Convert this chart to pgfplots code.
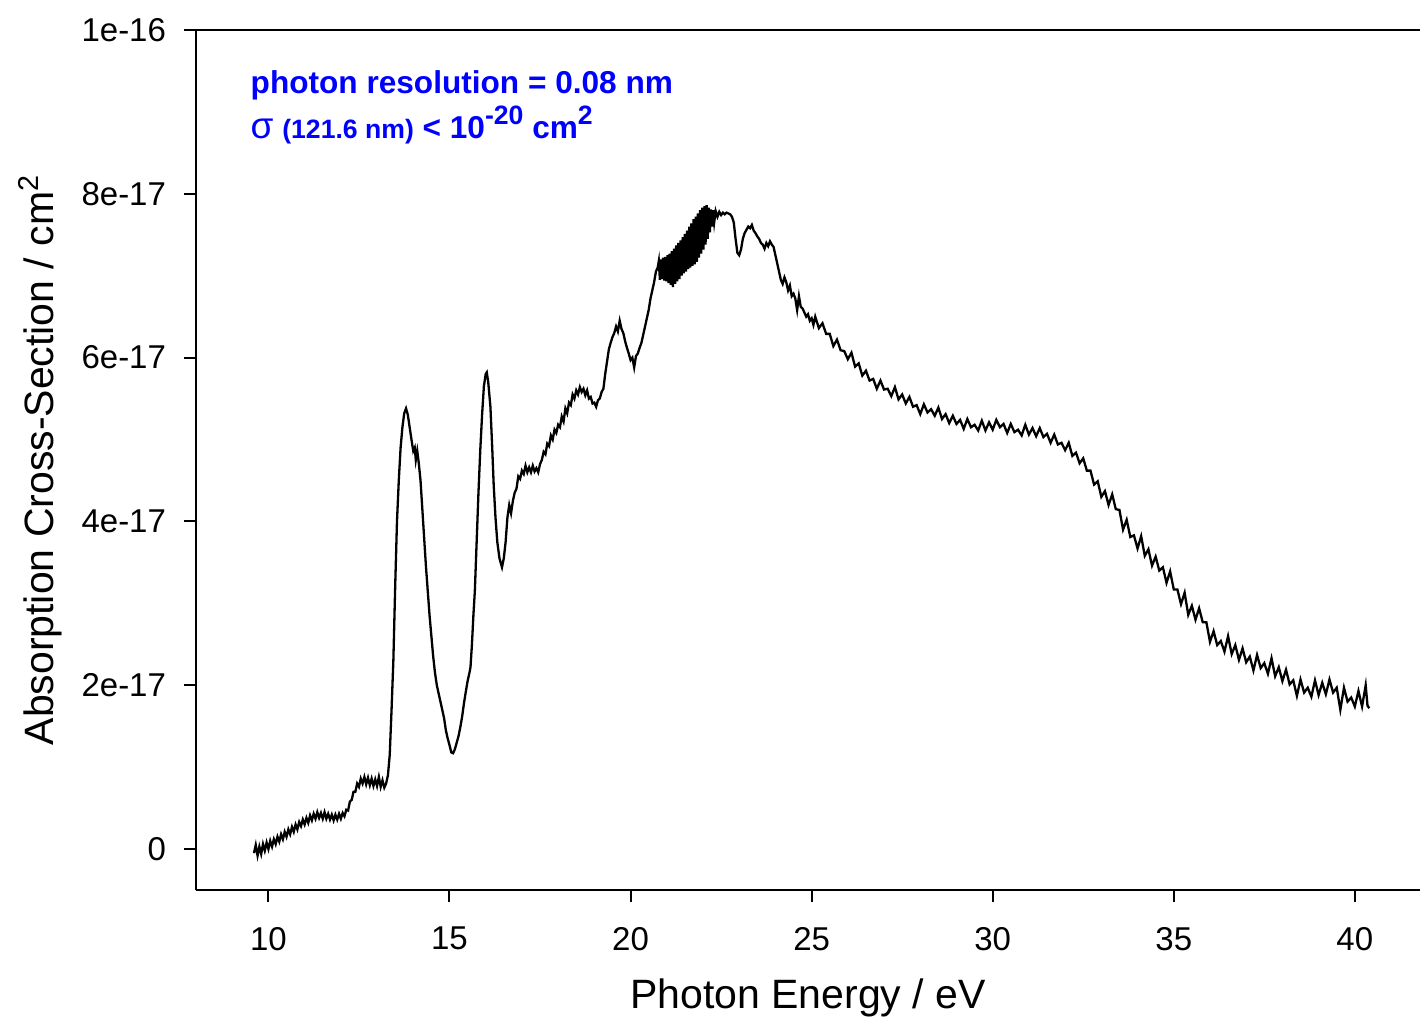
\documentclass[border=0pt]{standalone}
\usepackage{fontspec}
\setmainfont{Liberation Sans}
\usepackage{pgfplots}
\pgfplotsset{compat=1.18}
\definecolor{annot}{RGB}{0,0,255}

% cross-section in units of 1e-17 cm^2
\pgfplotstableread{
E s
9.60 -0.05
9.65 0.05
9.70 -0.08
9.75 0.03
9.80 -0.06
9.85 0.06
9.90 -0.02
9.95 0.08
10.00 0.00
10.05 0.10
10.10 0.03
10.15 0.12
10.20 0.06
10.25 0.15
10.30 0.09
10.35 0.18
10.40 0.12
10.45 0.21
10.50 0.15
10.55 0.24
10.60 0.18
10.65 0.27
10.70 0.21
10.75 0.30
10.80 0.24
10.85 0.33
10.90 0.28
10.95 0.36
11.00 0.30
11.05 0.38
11.10 0.32
11.15 0.41
11.20 0.35
11.25 0.43
11.30 0.37
11.35 0.45
11.40 0.38
11.45 0.44
11.50 0.37
11.55 0.45
11.60 0.37
11.65 0.43
11.70 0.36
11.75 0.42
11.80 0.35
11.85 0.42
11.90 0.36
11.95 0.43
12.00 0.37
12.05 0.44
12.10 0.40
12.15 0.48
12.20 0.47
12.25 0.58
12.30 0.60
12.35 0.70
12.40 0.70
12.45 0.80
12.50 0.76
12.55 0.86
12.60 0.80
12.65 0.88
12.70 0.79
12.75 0.87
12.80 0.78
12.85 0.86
12.90 0.77
12.95 0.85
13.00 0.77
13.05 0.88
13.10 0.76
13.15 0.84
13.20 0.75
13.25 0.80
13.30 0.90
13.35 1.15
13.40 1.70
13.45 2.30
13.50 3.20
13.55 4.00
13.60 4.50
13.65 4.90
13.70 5.15
13.75 5.32
13.80 5.38
13.85 5.30
13.90 5.15
13.95 5.00
14.00 4.86
14.04 4.90
14.07 4.75
14.11 4.86
14.15 4.72
14.20 4.50
14.25 4.15
14.30 3.80
14.35 3.45
14.40 3.15
14.45 2.85
14.50 2.60
14.55 2.35
14.60 2.15
14.65 2.00
14.70 1.90
14.75 1.80
14.80 1.70
14.85 1.60
14.90 1.45
14.95 1.35
15.00 1.27
15.05 1.18
15.10 1.17
15.15 1.22
15.20 1.30
15.25 1.38
15.30 1.49
15.35 1.62
15.40 1.78
15.45 1.92
15.50 2.05
15.55 2.15
15.58 2.22
15.62 2.50
15.66 2.85
15.70 3.15
15.75 3.75
15.80 4.35
15.85 4.87
15.90 5.30
15.95 5.65
16.00 5.80
16.03 5.82
16.07 5.70
16.10 5.55
16.13 5.40
16.18 4.90
16.22 4.45
16.27 4.05
16.32 3.75
16.38 3.55
16.45 3.44
16.50 3.55
16.55 3.75
16.60 4.05
16.65 4.20
16.70 4.10
16.75 4.25
16.80 4.35
16.85 4.40
16.90 4.55
16.95 4.52
17.00 4.62
17.05 4.58
17.10 4.68
17.15 4.60
17.20 4.66
17.25 4.60
17.30 4.68
17.35 4.61
17.40 4.65
17.45 4.60
17.50 4.70
17.55 4.75
17.60 4.85
17.65 4.82
17.70 4.95
17.75 4.92
17.80 5.05
17.85 5.00
17.90 5.12
17.95 5.08
18.00 5.18
18.05 5.15
18.10 5.28
18.15 5.22
18.20 5.38
18.25 5.32
18.30 5.45
18.35 5.42
18.40 5.55
18.45 5.50
18.50 5.60
18.55 5.55
18.60 5.64
18.65 5.58
18.70 5.62
18.75 5.54
18.80 5.60
18.85 5.50
18.90 5.52
18.95 5.44
19.00 5.45
19.05 5.40
19.10 5.48
19.15 5.50
19.20 5.58
19.25 5.62
19.30 5.80
19.35 5.95
19.40 6.10
19.45 6.18
19.50 6.25
19.55 6.30
19.60 6.38
19.65 6.32
19.70 6.45
19.75 6.35
19.80 6.30
19.85 6.20
19.90 6.12
19.95 6.05
20.00 5.97
20.05 6.00
20.10 5.88
20.15 6.02
20.20 6.05
20.25 6.12
20.30 6.18
20.35 6.28
20.40 6.38
20.45 6.48
20.50 6.58
20.55 6.72
20.60 6.82
20.65 6.92
20.70 7.05
20.75 7.10
20.78 7.18
20.81 6.95
20.84 7.20
20.87 6.96
20.90 7.22
20.93 6.94
20.96 7.23
20.99 6.93
21.02 7.25
21.05 6.91
21.08 7.27
21.11 6.89
21.14 7.30
21.17 6.86
21.20 7.33
21.23 6.90
21.26 7.37
21.29 6.93
21.32 7.40
21.35 6.96
21.38 7.43
21.41 7.00
21.44 7.47
21.47 7.03
21.50 7.51
21.53 7.05
21.56 7.55
21.59 7.08
21.62 7.60
21.65 7.10
21.68 7.64
21.71 7.12
21.74 7.69
21.77 7.14
21.80 7.72
21.83 7.17
21.86 7.76
21.89 7.22
21.92 7.80
21.95 7.27
21.98 7.83
22.01 7.32
22.04 7.85
22.07 7.38
22.10 7.86
22.13 7.45
22.16 7.83
22.19 7.53
22.22 7.81
22.25 7.60
22.28 7.80
22.31 7.65
22.35 7.79
22.40 7.72
22.45 7.78
22.50 7.74
22.55 7.77
22.60 7.75
22.65 7.77
22.70 7.76
22.75 7.75
22.80 7.72
22.85 7.65
22.90 7.45
22.95 7.28
23.00 7.25
23.05 7.32
23.10 7.45
23.15 7.52
23.20 7.56
23.25 7.60
23.30 7.58
23.35 7.62
23.40 7.55
23.45 7.52
23.50 7.48
23.55 7.45
23.60 7.40
23.65 7.38
23.70 7.33
23.75 7.40
23.80 7.36
23.85 7.42
23.90 7.38
23.95 7.35
24.00 7.25
24.05 7.15
24.10 7.05
24.15 6.95
24.20 6.90
24.25 6.98
24.30 6.92
24.35 6.82
24.40 6.88
24.45 6.75
24.50 6.78
24.55 6.72
24.60 6.58
24.65 6.75
24.70 6.62
24.75 6.60
24.80 6.55
24.85 6.50
24.90 6.53
24.95 6.45
25.00 6.48
25.05 6.40
25.10 6.50
25.20 6.36
25.30 6.42
25.40 6.29
25.50 6.29
25.60 6.14
25.70 6.22
25.80 6.09
25.90 6.08
26.00 5.98
26.10 6.06
26.20 5.89
26.30 5.93
26.40 5.78
26.50 5.84
26.60 5.72
26.70 5.74
26.80 5.62
26.90 5.72
27.00 5.61
27.10 5.62
27.20 5.53
27.30 5.64
27.40 5.49
27.50 5.55
27.60 5.44
27.70 5.52
27.80 5.40
27.90 5.42
28.00 5.31
28.10 5.43
28.20 5.33
28.30 5.37
28.40 5.29
28.50 5.39
28.60 5.25
28.70 5.31
28.80 5.20
28.90 5.29
29.00 5.19
29.10 5.24
29.20 5.13
29.30 5.25
29.40 5.15
29.50 5.18
29.60 5.11
29.70 5.23
29.80 5.11
29.90 5.21
30.00 5.12
30.10 5.24
30.20 5.15
30.30 5.19
30.40 5.08
30.50 5.19
30.60 5.09
30.70 5.12
30.80 5.05
30.90 5.18
31.00 5.06
31.10 5.14
31.20 5.04
31.30 5.14
31.40 5.03
31.50 5.07
31.60 4.96
31.70 5.06
31.80 4.94
31.90 4.96
32.00 4.87
32.10 4.96
32.20 4.80
32.30 4.84
32.40 4.71
32.50 4.77
32.60 4.62
32.70 4.62
32.80 4.45
32.90 4.49
33.00 4.30
33.10 4.37
33.20 4.20
33.30 4.33
33.40 4.15
33.50 4.14
33.60 3.90
33.70 4.02
33.80 3.81
33.90 3.83
34.00 3.67
34.10 3.82
34.20 3.58
34.30 3.66
34.40 3.46
34.50 3.57
34.60 3.40
34.70 3.44
34.80 3.25
34.90 3.39
35.00 3.17
35.10 3.17
35.20 2.99
35.30 3.13
35.40 2.86
35.50 2.97
35.60 2.80
35.70 2.94
35.80 2.77
35.90 2.77
36.00 2.53
36.10 2.66
36.20 2.49
36.30 2.54
36.40 2.41
36.50 2.60
36.60 2.38
36.70 2.49
36.80 2.31
36.90 2.45
37.00 2.28
37.10 2.35
37.20 2.18
37.30 2.37
37.40 2.21
37.50 2.27
37.60 2.14
37.70 2.33
37.80 2.11
37.90 2.22
38.00 2.05
38.10 2.19
38.20 2.01
38.30 2.06
38.40 1.87
38.50 2.07
38.60 1.91
38.70 1.97
38.80 1.86
38.90 2.06
39.00 1.88
39.10 2.03
39.20 1.89
39.30 2.07
39.40 1.91
39.50 1.97
39.60 1.70
39.70 1.97
39.80 1.80
39.90 1.85
40.00 1.74
40.10 1.93
40.20 1.74
40.30 2.00
40.35 1.75
40.40 1.72
}\spectrum

\begin{document}
\begin{tikzpicture}
\begin{axis}[
  scale only axis, width=612bp, height=430bp,
  xmin=8, xmax=41.8, ymin=-0.5, ymax=10,
  axis x line=box, axis y line=left,
  axis line style={-, line width=1bp},
  xtick={10,15,20,25,30,35,40},
  ytick={0,2,4,6,8,10},
  yticklabels={0,2e-17,4e-17,6e-17,8e-17,1e-16},
  xtick pos=left, ytick pos=left,
  tick align=outside, major tick length=6bp,
  every tick/.style={black, line width=1bp},
  tick label style={font=\fontsize{16.5bp}{19bp}\selectfont},
  yticklabel style={xshift=-5.5bp},
  xticklabel style={yshift=-9bp},
  /pgf/number format/assume math mode=true,
  xlabel={Photon Energy / eV},
  ylabel={Absorption Cross-Section / cm\textsuperscript{2}},
  xlabel style={font=\fontsize{20.5bp}{24bp}\selectfont, at={(axis description cs:0.5,-0.1256)}, anchor=center},
  ylabel style={font=\fontsize{20.5bp}{24bp}\selectfont, at={(axis description cs:-0.1275,0.5)}, anchor=center, rotate=0},
]
\addplot[black, line width=1.15bp] table[x=E, y=s] {\spectrum};
\node[anchor=base west, inner sep=0pt, text=annot, font=\fontsize{15.8bp}{19bp}\bfseries\selectfont] at (axis cs:9.5,9.22) {photon resolution = 0.08 nm};
\node[anchor=base west, inner sep=0pt, text=annot, font=\fontsize{15.8bp}{19bp}\bfseries\selectfont] at (axis cs:9.5,8.67)
  {{\mdseries\fontsize{18.5bp}{19bp}\selectfont σ} {\fontsize{13.3bp}{14bp}\selectfont (121.6 nm)} < 10\raisebox{7bp}{\fontsize{13.3bp}{14bp}\selectfont -20} cm\raisebox{7bp}{\fontsize{13.3bp}{14bp}\selectfont 2}};
\end{axis}
\pgfresetboundingbox
\path[use as bounding box] ([shift={(-98bp,-65.5bp)}]current axis.south west) rectangle ([shift={(0bp,15bp)}]current axis.north east);
\end{tikzpicture}
\end{document}
